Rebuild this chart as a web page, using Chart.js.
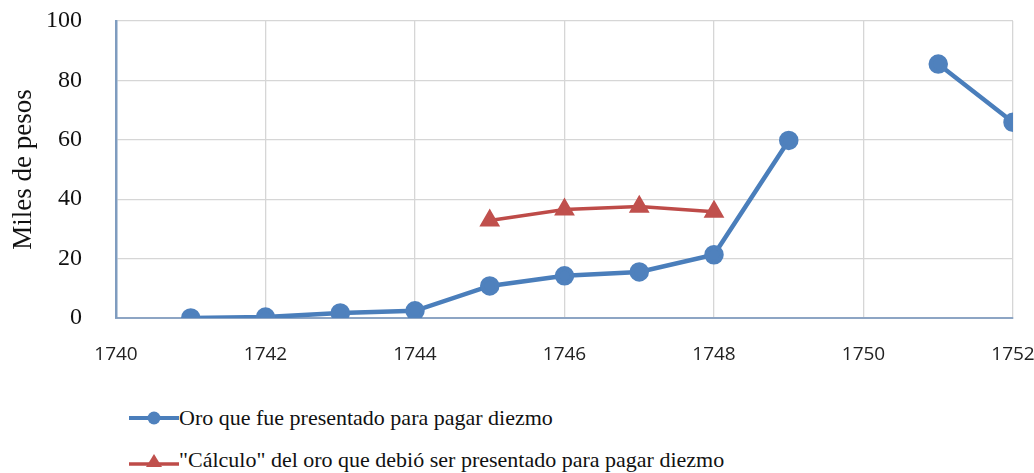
<!DOCTYPE html>
<html>
<head>
<meta charset="utf-8">
<script src="https://cdn.jsdelivr.net/npm/chart.js@4/dist/chart.umd.min.js"></script>
<style>
  html, body { margin: 0; padding: 0; background: #fff; }
  #wrap { position: relative; width: 1034px; height: 473px; }
  #box { position: absolute; left: 0; top: 0; width: 1034px; height: 372px; }
  #legend { position: absolute; left: 129px; top: 403px; font-family: "Liberation Serif", "Times New Roman", serif; font-size: 22px; color: #111; }
  .item { display: flex; align-items: center; height: 30px; margin-bottom: 12px; white-space: nowrap; }
</style>
</head>
<body>
<div id="wrap">
  <div id="box"><canvas id="c"></canvas></div>
  <div id="legend"></div>
</div>
<script>
const seriesNames = [
  "Oro que fue presentado para pagar diezmo",
  "\"Cálculo\" del oro que debió ser presentado para pagar diezmo"
];
const oroYears = [1741, 1742, 1743, 1744, 1745, 1746, 1747, 1748, 1749, 1750, 1751, 1752];
const oroValues = [0, 0.3, 1.7, 2.4, 10.8, 14.2, 15.5, 21.3, 59.8, null, 85.5, 65.9];
const calcYears = [1745, 1746, 1747, 1748];
const calcValues = [32.8, 36.5, 37.5, 35.8];
const xTicks = [1740, 1742, 1744, 1746, 1748, 1750, 1752];
const yTicks = [0, 20, 40, 60, 80, 100];

const blue = "#4A7EBB", blueMarker = "#4F81BD";
const red = "#BE4B48", redMarker = "#C0504D";

const ctx = document.getElementById('c');
new Chart(ctx, {
  type: 'line',
  data: {
    datasets: [
      {
        label: seriesNames[0],
        data: oroYears.map((x, i) => ({ x: x, y: oroValues[i] })),
        borderColor: blue, backgroundColor: blueMarker,
        pointBackgroundColor: blueMarker, pointBorderColor: blueMarker,
        borderWidth: 4.5, pointRadius: 7.5, pointStyle: 'circle',
        spanGaps: false, tension: 0
      },
      {
        label: seriesNames[1],
        data: calcYears.map((x, i) => ({ x: x, y: calcValues[i] })),
        borderColor: red, backgroundColor: redMarker,
        pointBackgroundColor: redMarker, pointBorderColor: redMarker,
        borderWidth: 3.5, pointRadius: 8.5, pointStyle: 'triangle',
        tension: 0
      }
    ]
  },
  options: {
    responsive: true, maintainAspectRatio: false, animation: false,
    layout: { padding: { top: 21, right: 21, left: 0, bottom: 0 } },
    plugins: { legend: { display: false }, tooltip: { enabled: false } },
    scales: {
      x: {
        type: 'linear', min: 1740, max: 1752,
        afterBuildTicks: s => { s.ticks = xTicks.map(v => ({ value: v })); },
        afterFit: s => { s.height = 54; s.paddingLeft = 0; s.paddingRight = 0; },
        ticks: { padding: 25, color: '#222', font: { family: '"Open Sans", "Liberation Sans", sans-serif', size: 19 }, callback: v => String(v) },
        grid: { color: '#d6d6d6', lineWidth: 1.3, drawTicks: false },
        border: { color: '#8da5c4', width: 2 }
      },
      y: {
        min: 0, max: 100,
        afterBuildTicks: s => { s.ticks = yTicks.map(v => ({ value: v })); },
        afterFit: s => { s.width = 116; s.paddingTop = 0; s.paddingBottom = 0; },
        ticks: { padding: 34, color: '#111', font: { family: '"Liberation Serif", "Times New Roman", serif', size: 24 } },
        grid: { color: '#d6d6d6', lineWidth: 1.3, drawTicks: false },
        border: { color: '#7f9cbf', width: 2.5 },
        title: { display: true, text: 'Miles de pesos', color: '#111', padding: { top: 8, bottom: 0 }, font: { family: '"Liberation Serif", "Times New Roman", serif', size: 27 } }
      }
    }
  }
});

// HTML legend built from datasets
const legend = document.getElementById('legend');
const markers = [
  `<svg width="50" height="20"><line x1="0" y1="10" x2="50" y2="10" stroke="${blue}" stroke-width="4"/><circle cx="25" cy="10" r="6.5" fill="${blueMarker}"/></svg>`,
  `<svg width="50" height="20"><line x1="0" y1="14" x2="50" y2="14" stroke="${red}" stroke-width="3.5"/><polygon points="25,4 33,17 17,17" fill="${redMarker}"/></svg>`
];
seriesNames.forEach((name, i) => {
  const d = document.createElement('div');
  d.className = 'item';
  d.innerHTML = markers[i] + '<span></span>';
  d.querySelector('span').textContent = name;
  legend.appendChild(d);
});
</script>
</body>
</html>
